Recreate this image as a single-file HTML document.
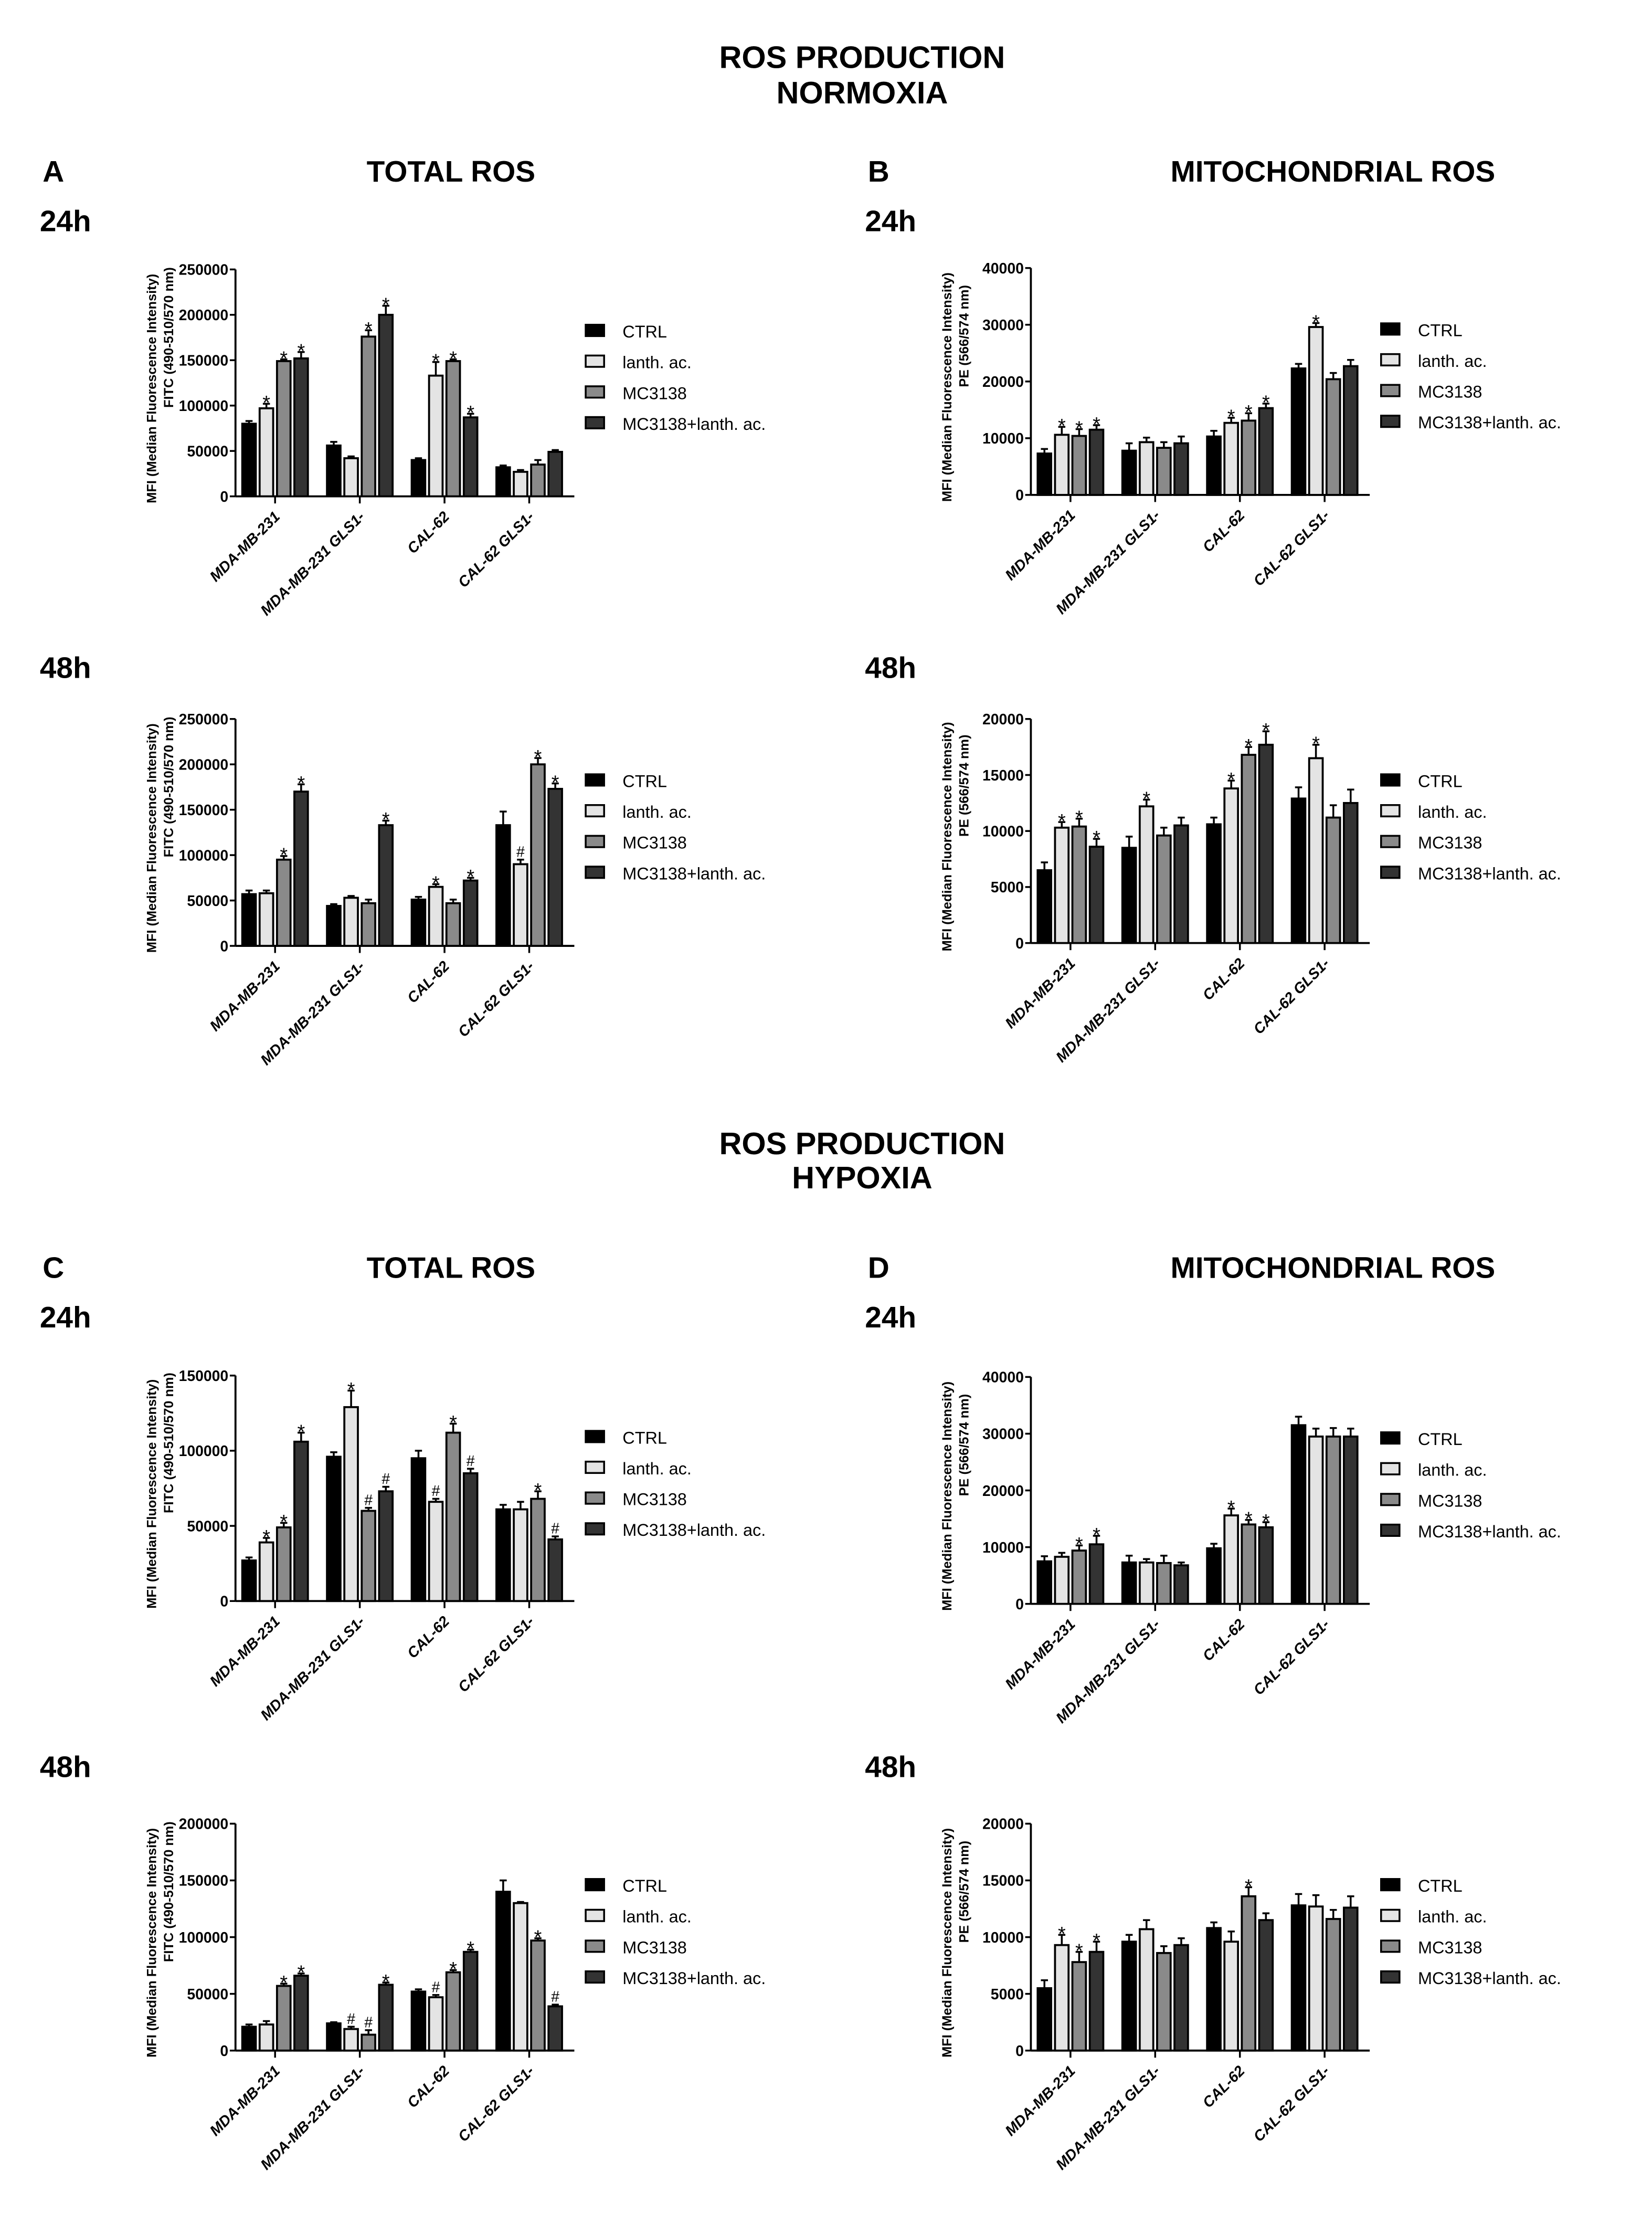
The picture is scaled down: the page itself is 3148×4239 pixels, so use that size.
<!DOCTYPE html>
<html><head><meta charset="utf-8"><style>
html,body{margin:0;padding:0;background:#fff}
svg{display:block}
text{font-family:"Liberation Sans",Arial,sans-serif}
</style></head><body>
<svg id="fig" width="3148" height="4239" viewBox="0 0 1165 1569" xmlns="http://www.w3.org/2000/svg">
<g font-weight="bold" text-anchor="middle" font-size="22">
<text x="608" y="48">ROS PRODUCTION</text>
<text x="608" y="73">NORMOXIA</text>
<text x="608" y="814">ROS PRODUCTION</text>
<text x="608" y="838">HYPOXIA</text>
</g>
<g font-weight="bold" font-size="21">
<text x="30" y="128">A</text>
<text x="318" y="128" text-anchor="middle">TOTAL ROS</text>
<text x="612" y="128">B</text>
<text x="940" y="128" text-anchor="middle">MITOCHONDRIAL ROS</text>
<text x="30" y="901">C</text>
<text x="318" y="901" text-anchor="middle">TOTAL ROS</text>
<text x="612" y="901">D</text>
<text x="940" y="901" text-anchor="middle">MITOCHONDRIAL ROS</text>
<text x="28" y="163">24h</text>
<text x="28" y="478">48h</text>
<text x="610" y="163">24h</text>
<text x="610" y="478">48h</text>
<text x="28" y="936">24h</text>
<text x="28" y="1253">48h</text>
<text x="610" y="936">24h</text>
<text x="610" y="1253">48h</text>
</g>
</svg>
<script>
const categories = ["MDA-MB-231","MDA-MB-231 GLS1-","CAL-62","CAL-62 GLS1-"];
const seriesNames = ["CTRL","lanth. ac.","MC3138","MC3138+lanth. ac."];
const a24Values = [[80000,97000,149000,152000],[56000,42000,176000,200000],[40000,133000,149000,87000],[32000,27000,35000,49000]];
const a24Errors = [[3000,5000,2000,7000],[4000,2000,7000,10000],[2000,15000,2000,4000],[2000,2000,5000,2000]];
const a24Marks = [["","*","*","*"],["","","*","*"],["","*","*","*"],["","","",""]];
const b24Values = [[7300,10600,10400,11500],[7800,9300,8300,9100],[10300,12700,13100,15300],[22300,29600,20400,22700]];
const b24Errors = [[800,1400,1200,800],[1300,800,1000,1200],[1000,900,1300,800],[800,700,1100,1100]];
const b24Marks = [["","*","*","*"],["","","",""],["","*","*","*"],["","*","",""]];
const a48Values = [[57000,58000,95000,170000],[44000,53000,47000,133000],[51000,65000,47000,72000],[133000,90000,200000,173000]];
const a48Errors = [[4000,3000,4000,8000],[2000,2000,4000,5000],[3000,3000,4000,3000],[15000,5000,7000,6000]];
const a48Marks = [["","","*","*"],["","","","*"],["","*","","*"],["","#","*","*"]];
const b48Values = [[6500,10300,10400,8600],[8500,12200,9600,10500],[10600,13800,16800,17700],[12900,16500,11200,12500]];
const b48Errors = [[700,500,700,700],[1000,600,700,700],[600,700,700,1200],[1000,1200,1100,1200]];
const b48Marks = [["","*","*","*"],["","*","",""],["","*","*","*"],["","*","",""]];
const c24Values = [[27000,39000,49000,106000],[96000,129000,60000,73000],[95000,66000,112000,85000],[61000,61000,68000,41000]];
const c24Errors = [[2000,3000,3000,6000],[3000,11000,2000,3000],[5000,2000,6000,3000],[3000,5000,5000,2000]];
const c24Marks = [["","*","*","*"],["","*","#","#"],["","#","*","#"],["","","*","#"]];
const d24Values = [[7500,8300,9400,10500],[7300,7300,7200,6800],[9800,15600,14000,13500],[31500,29500,29500,29500]];
const d24Errors = [[900,700,900,1500],[1200,600,1300,500],[800,1200,800,900],[1500,1400,1500,1400]];
const d24Marks = [["","","*","*"],["","","",""],["","*","*","*"],["","","",""]];
const c48Values = [[21000,23000,57000,66000],[24000,19000,14000,58000],[52000,47000,69000,87000],[140000,130000,97000,39000]];
const c48Errors = [[2000,3000,2000,2000],[1000,2000,4000,2000],[2000,2000,2000,2000],[10000,1000,2000,1500]];
const c48Marks = [["","","*","*"],["","#","#","*"],["","#","*","*"],["","","*","#"]];
const d48Values = [[5500,9300,7800,8700],[9600,10700,8600,9300],[10800,9600,13600,11500],[12800,12700,11600,12600]];
const d48Errors = [[700,900,900,900],[600,800,600,600],[500,900,800,600],[1000,1000,800,1000]];
const d48Marks = [["","*","*","*"],["","","",""],["","","*",""],["","","",""]];
const fills = ["#000","#e4e4e4","#8a8a8a","#333"];
const NS = "http://www.w3.org/2000/svg";
const svg = document.getElementById("fig");
function mk(tag, attrs, parent){const e=document.createElementNS(NS,tag);for(const k in attrs)e.setAttribute(k,attrs[k]);(parent||svg).appendChild(e);return e;}
function chart(id, x0, top, bot, right, maxV, step, title2, values, errors, marks){
  const g = mk("g",{});
  
  
  const y = v => bot - (v/maxV)*(bot-top);
  const plotW = right - x0;
  const gw = plotW/4, pitch = gw*0.205, bw = pitch*0.78;
  const start = x0 + gw*0.08;
  const ya = mk("line",{x1:x0,y1:top,x2:x0,y2:bot,stroke:"#000","stroke-width":1.4},g);
  
  
  const xa = mk("line",{x1:x0,y1:bot,x2:right,y2:bot,stroke:"#000","stroke-width":1.4},g);
  
  
  for(let v=0; v<=maxV+1; v+=step){
    mk("line",{x1:x0-4,y1:y(v),x2:x0,y2:y(v),stroke:"#000","stroke-width":1.3},g);
    const t = mk("text",{x:x0-5,y:y(v)+3.8,"text-anchor":"end","font-size":10.5,"font-weight":"bold"},g);
    t.textContent = v;
    
    
  }
  const ymid = (top+bot)/2 + 8;
  const yt1 = mk("text",{x:0,y:0,"text-anchor":"middle","font-size":9.4,"font-weight":"bold",transform:`translate(${x0-56},${ymid-4}) rotate(-90)`},g);
  yt1.textContent = "MFI (Median Fluorescence Intensity)";
  
  
  const yt2 = mk("text",{x:0,y:0,"text-anchor":"middle","font-size":9.4,"font-weight":"bold",transform:`translate(${x0-44},${ymid-40}) rotate(-90)`},g);
  yt2.textContent = title2;
  
  
  for(let c=0;c<4;c++){
    const gx = start + c*gw;
    const cx = gx + pitch*1.5 + bw/2;
    mk("line",{x1:cx,y1:bot,x2:cx,y2:bot+5,stroke:"#000","stroke-width":1.3},g);
    const cl = mk("text",{x:0,y:0,"text-anchor":"end","font-size":10.5,"font-weight":"bold","font-style":"italic",transform:`translate(${cx+4},${bot+15}) rotate(-45)`},g);
    cl.textContent = categories[c];
    
    
    for(let s=0;s<4;s++){
      const v = values[c][s], e = errors[c][s];
      const bx = gx + s*pitch;
      const ex = bx + bw/2;
      mk("line",{x1:ex,y1:y(v),x2:ex,y2:y(v+e),stroke:"#000","stroke-width":1.3},g);
      mk("line",{x1:ex-2.5,y1:y(v+e),x2:ex+2.5,y2:y(v+e),stroke:"#000","stroke-width":1.3},g);
      const r = mk("rect",{x:bx,y:y(v),width:bw,height:bot-y(v),fill:fills[s],stroke:"#000","stroke-width":1.4},g);
      
      
      if(marks[c][s]){
        const star = marks[c][s]==="*";
        const m = mk("text",{x:ex,y:y(v+e)-2+(star?6:0),"text-anchor":"middle","font-size":star?14:10.5},g);
        m.textContent = marks[c][s];
        
        
      }
    }
  }
  const lx = right + 8, ly = top + 44;
  for(let s=0;s<4;s++){
    const yy = ly + s*21.7;
    const sq = mk("rect",{x:lx,y:yy-5,width:13,height:8,fill:fills[s],stroke:"#000","stroke-width":1.3},g);
    
    
    const lt = mk("text",{x:lx+26,y:yy+4,"font-size":12},g);
    lt.textContent = seriesNames[s];
    
    
  }
}
const FITC = "FITC (490-510/570 nm)", PE = "PE (566/574 nm)";
chart("a-24h",166,190,350,405,250000,50000,FITC,a24Values,a24Errors,a24Marks);
chart("a-48h",166,507,667,405,250000,50000,FITC,a48Values,a48Errors,a48Marks);
chart("b-24h",727,189,349,966,40000,10000,PE,b24Values,b24Errors,b24Marks);
chart("b-48h",727,507,665,966,20000,5000,PE,b48Values,b48Errors,b48Marks);
chart("c-24h",166,970,1129,405,150000,50000,FITC,c24Values,c24Errors,c24Marks);
chart("c-48h",166,1286,1446,405,200000,50000,FITC,c48Values,c48Errors,c48Marks);
chart("d-24h",727,971,1131,966,40000,10000,PE,d24Values,d24Errors,d24Marks);
chart("d-48h",727,1286,1446,966,20000,5000,PE,d48Values,d48Errors,d48Marks);
</script>
</body></html>
